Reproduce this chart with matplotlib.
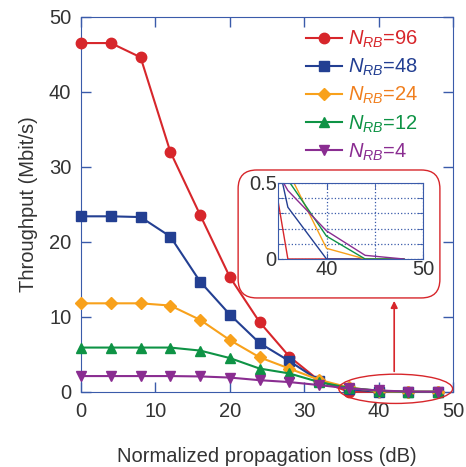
import matplotlib.pyplot as plt
from matplotlib.patches import Ellipse, FancyBboxPatch

plt.rcParams['font.family'] = ['Liberation Sans', 'DejaVu Sans']
plt.rcParams['mathtext.fontset'] = 'custom'
plt.rcParams['mathtext.it'] = 'Liberation Sans:italic'
plt.rcParams['mathtext.rm'] = 'Liberation Sans'

# propagation loss (dB)
loss = [0, 4, 8, 12, 16, 20, 24, 28, 32, 36, 40, 44, 48]

# throughput (Mbit/s) per N_RB
nrb96 = [46.5, 46.5, 44.6, 32.0, 23.6, 15.3, 9.3, 4.7, 1.5, 0.0, 0.0, 0.0, 0.0]
nrb48 = [23.4, 23.4, 23.3, 20.7, 14.7, 10.3, 6.5, 4.1, 1.5, 0.34, 0.0, 0.0, 0.0]
nrb24 = [11.8, 11.8, 11.8, 11.5, 9.6, 6.9, 4.6, 3.1, 1.6, 0.58, 0.07, 0.0, 0.0]
nrb12 = [5.9, 5.9, 5.9, 5.9, 5.5, 4.5, 3.1, 2.45, 1.3, 0.52, 0.15, 0.0, 0.0]
nrb4 = [2.1, 2.1, 2.1, 2.1, 2.05, 1.9, 1.55, 1.3, 0.9, 0.45, 0.185, 0.024, 0.0]

series = [
    (nrb96, '96', '#D7262B', '#D7262B', 'o', 7.5),
    (nrb48, '48', '#233F92', '#233F92', 's', 7.5),
    (nrb24, '24', '#F8A11B', '#F07F1E', 'D', 6.5),
    (nrb12, '12', '#0E9345', '#0E9345', '^', 7.5),
    (nrb4, '4', '#8A2D91', '#8A2D91', 'v', 7.5),
]

axcol = '#3A5BAA'
txtcol = '#333333'
fs = 14.5

fig = plt.figure(figsize=(4.66, 4.67), dpi=100)
ax = fig.add_axes([0.174, 0.161, 0.798, 0.803])

for y, lab, c, tc, m, ms in series:
    ax.plot(loss, y, color=c, marker=m, markersize=ms, lw=1.5,
            label=r'$N_{RB}$=' + lab, clip_on=False, zorder=3)

ax.set_xlim(0, 50)
ax.set_ylim(0, 50)
ax.set_xticks(range(0, 51, 10))
ax.set_yticks(range(0, 51, 10))
ax.tick_params(direction='in', length=7, width=1, color=axcol, labelsize=fs,
               labelcolor=txtcol, top=True, right=True, pad=7)
for s in ax.spines.values():
    s.set_color(axcol)
ax.set_xlabel('Normalized propagation loss (dB)', fontsize=fs, color=txtcol, labelpad=19)
ax.set_ylabel('Throughput (Mbit/s)', fontsize=fs, color=txtcol, labelpad=8)

leg = ax.legend(loc='upper right', frameon=False, fontsize=fs, handlelength=1.8,
                handletextpad=0.3, labelspacing=0.34, borderaxespad=0.2,
                bbox_to_anchor=(0.94, 1.0))
for t, s in zip(leg.get_texts(), series):
    t.set_color(s[3])

# ellipse + arrow pointing to zoom box
ax.add_patch(Ellipse((42.3, 0.4), 15.3, 3.9, fill=False, ec='#D7262B', lw=1, zorder=4, clip_on=False))
ax.annotate('', xy=(42.1, 12.5), xytext=(42.1, 2.35),
            arrowprops=dict(arrowstyle='-|>', color='#D7262B', lw=1.2, mutation_scale=10))

# rounded box behind inset
box = FancyBboxPatch((0.511, 0.362), 0.433, 0.274, boxstyle='round,pad=0,rounding_size=0.04',
                     transform=fig.transFigure, fc='white', ec='#D7262B', lw=1, zorder=5)
fig.patches.append(box)

ins = fig.add_axes([0.597, 0.4454, 0.311, 0.163])
ins.set_zorder(6)
for y, lab, c, tc, m, ms in series:
    ins.plot(loss, y, color=c, lw=1)
ins.set_xlim(35, 50)
ins.set_ylim(0, 0.5)
ins.set_xticks([40, 50])
ins.set_xticks([45], minor=True)
ins.set_yticks([0, 0.5])
ins.set_yticklabels(['0', '0.5'])
ins.set_yticks([0.1, 0.2, 0.3, 0.4], minor=True)
ins.grid(True, which='both', color=axcol, ls=':', lw=0.9)
ins.tick_params(which='both', direction='in', length=4, color=axcol, labelsize=fs,
                labelcolor=txtcol, top=True, right=True, pad=1)
for s in ins.spines.values():
    s.set_color(axcol)

fig.savefig('out.png', dpi=100)
